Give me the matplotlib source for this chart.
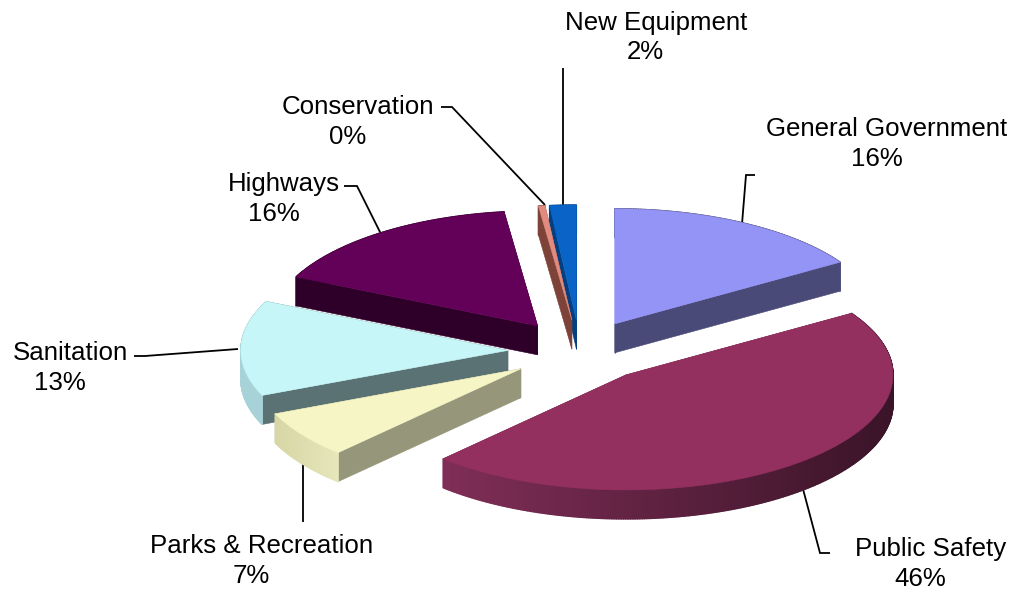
import numpy as np
import matplotlib
matplotlib.use("Agg")
import matplotlib.pyplot as plt
from matplotlib.collections import PolyCollection
from matplotlib.colors import to_rgb

categories = ["General Government", "Public Safety", "Parks & Recreation", "Sanitation",
              "Highways", "Conservation", "New Equipment"]
shares = [16.0, 46.0, 6.6, 13.4, 16.0, 0.4, 1.6]

top_colors = ["#9494f6", "#93305f", "#f5f5c6", "#c6f6f8", "#630058", "#e08a80", "#0a64c8"]
cut_colors = ["#4a4a78", "#6a2345", "#96967a", "#5a7274", "#2e0029", "#7d4238", "#04407f"]
# outer wall shade at the right and left ends of each slice's rim
wall_right = ["#4a4a78", "#3a1428", "#e6e6bb", "#a6d2d8", "#2e0029", "#7d4238", "#04407f"]
wall_left = ["#4a4a78", "#802e57", "#d6d6a6", "#a6d2d8", "#2e0029", "#7d4238", "#04407f"]

# Pie geometry, in pixels
CX, CY = 580, 351
RX, RY = 267, 115
DEPTH = 29
EXPLODE = 0.27

# Label anchor centres: (name x, name y, value x, value y)
label_pos = [(886.5, 129, 876.5, 159), (931, 549, 920, 579), (262, 546, 251.5, 576), (70.5, 353, 59.5, 383),
             (284, 184, 273.5, 214), (358, 107, 347.5, 137), (656, 23, 645, 52)]
leaders = [[(755, 175), (746, 175), (742, 224)],
           [(830, 553), (820, 553), (803, 489)],
           [(303, 522), (303, 463)],
           [(134, 356), (145, 356), (238, 349)],
           [(344, 186), (357, 186), (381, 234)],
           [(441, 107), (452, 107), (545, 205)],
           [(563, 68), (563, 205)]]

plt.rcParams["font.family"] = ["Liberation Sans", "DejaVu Sans"]
fig = plt.figure(figsize=(10.14, 5.91), dpi=100)
ax = fig.add_axes([0, 0, 1, 1])
ax.set_xlim(0, 1014)
ax.set_ylim(591, 0)
ax.axis("off")


def rim(apex, theta):
    return np.column_stack([apex[0] + RX * np.sin(theta), apex[1] - RY * np.cos(theta)])


def mix(a, b, t):
    a, b = np.array(to_rgb(a)), np.array(to_rgb(b))
    return tuple(a + (b - a) * t)


edges = np.radians(np.concatenate([[0], np.cumsum(shares)]) / np.sum(shares) * 360)
slices = []
for i in range(len(shares)):
    a0, a1 = edges[i], edges[i + 1]
    mid = (a0 + a1) / 2
    apex = (CX + EXPLODE * RX * np.sin(mid), CY - EXPLODE * RY * np.cos(mid))
    slices.append((i, a0, a1, apex))

# Painted back to front so nearer slices overlap farther ones
paint_order = [0, 6, 5, 4, 3, 2, 1]
for rank, i in enumerate(paint_order):
    _, a0, a1, apex = slices[i]
    z = 2 + rank * 5
    theta = np.linspace(a0, a1, max(8, int(np.degrees(a1 - a0) * 2)))
    pts = rim(apex, theta)
    drop = np.array([0, DEPTH])

    # cut faces running from the apex to each end of the rim
    for end in (pts[0], pts[-1]):
        quad = [apex, end, end + drop, np.array(apex) + drop]
        ax.fill(*zip(*quad), color=cut_colors[i], lw=0.4, zorder=z)

    # outer wall, shaded from segment to segment
    quads, cols = [], []
    span = pts[:, 0].max() - pts[:, 0].min()
    for p, q in zip(pts[:-1], pts[1:]):
        quads.append([p, q, q + drop, p + drop])
        t = (p[0] - pts[:, 0].min()) / span if span else 0
        cols.append(mix(wall_left[i], wall_right[i], t))
    ax.add_collection(PolyCollection(quads, facecolors=cols, edgecolors=cols, linewidths=1.0, zorder=z + 1))

    # top face
    outline = np.vstack([apex, pts])
    ax.fill(outline[:, 0], outline[:, 1], color=top_colors[i], lw=0.4, zorder=z + 2)

for path in leaders:
    xs, ys = zip(*path)
    ax.plot(xs, ys, color="black", lw=1.3, zorder=1, solid_capstyle="butt", solid_joinstyle="miter")

for name, share, (nx, ny, vx, vy) in zip(categories, shares, label_pos):
    ax.text(nx, ny, name, fontsize=18.6, ha="center", va="center", color="black", zorder=60)
    ax.text(vx, vy, f"{share:.0f}%", fontsize=18.6, ha="center", va="center", color="black", zorder=60)

fig.savefig("out.png", dpi=100, facecolor="white")
